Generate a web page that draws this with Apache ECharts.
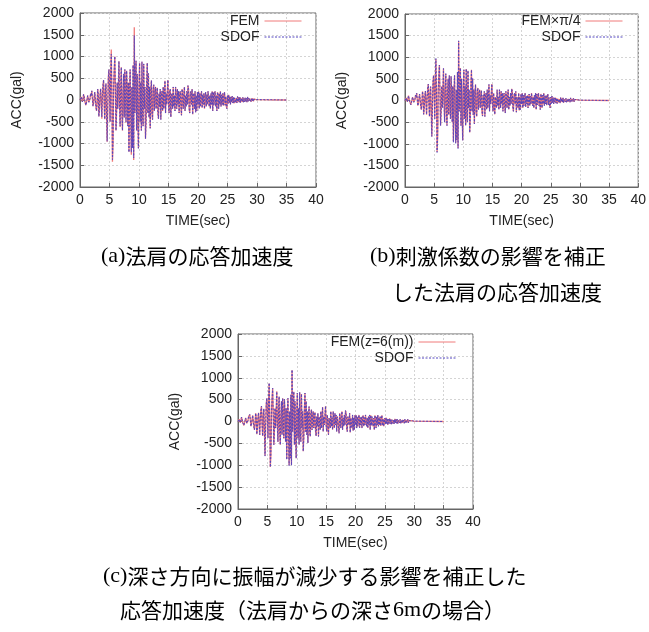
<!DOCTYPE html>
<html>
<head>
<meta charset="utf-8">
<script src="https://cdn.jsdelivr.net/npm/echarts@6/dist/echarts.min.js"></script>
<style>
html,body{margin:0;padding:0;background:#fff;}
#chart{width:649px;height:632px;}
</style>
</head>
<body>
<div id="chart"></div>
<script>
// sampling interval of the read-off time histories (sec) and end of record
const DT = 0.1;
const T_END = 35;
const xTicks = [0, 5, 10, 15, 20, 25, 30, 35, 40];
const yTicks = [-2000, -1500, -1000, -500, 0, 500, 1000, 1500, 2000];

// (a) 法肩の応答加速度
const aFEM = [
0,30,70,20,-40,10,130,80,-20,-60,
-120,-90,20,100,60,-50,-90,30,150,90,
210,40,-140,-80,60,180,20,-160,-250,-60,
250,130,-380,-200,120,260,-60,-430,100,350,
460,-100,-440,200,380,-300,-960,-200,520,700,
300,-500,600,1160,200,-1420,-1000,300,700,1000,
200,-700,-300,400,-200,300,890,-100,-620,300,
750,-300,-700,200,600,-400,700,100,-520,670,
300,-600,400,-1190,200,700,-400,-1260,300,-1100,
800,-1380,1670,-300,500,900,-700,600,-400,-1110,
300,850,-500,400,-700,880,-300,-600,830,-200,
300,-890,-500,400,850,-300,610,-400,300,-650,
200,450,-300,-450,250,350,-250,150,300,-200,
100,280,-300,-430,150,-150,250,-450,150,200,
-250,300,-200,100,440,-300,150,-100,200,460,
-100,-300,200,250,-390,100,150,-200,300,-150,
100,-250,300,50,-200,250,-100,200,-300,150,
200,-150,-350,250,100,-200,150,300,-250,100,
-150,200,-100,330,250,-200,-300,150,200,-100,
250,-330,100,150,-200,200,-280,100,-250,180,
-100,200,-200,150,-150,100,200,-180,120,-100,
150,-200,100,180,-150,120,-100,200,230,-150,
100,-200,150,-100,200,-250,180,-120,150,200,
-150,100,-250,180,120,-200,150,-100,200,-150,
120,-100,150,-130,100,180,-120,80,-150,-200,
100,-80,120,-60,80,-100,70,-50,90,-70,
60,-80,50,90,-60,40,-70,80,-40,60,
-50,70,-60,40,50,-40,60,-50,30,-40,
50,-30,40,-50,70,-30,40,-20,30,60,
-40,30,-20,40,-30,20,-20,15,-10,10,
0];
const aSDOF = [
0,30,70,20,-40,10,130,80,-20,-60,
-120,-90,20,100,60,-50,-90,30,150,90,
210,40,-140,-80,60,180,20,-160,-250,-60,
250,130,-380,-200,120,260,-60,-390,100,350,
460,-100,-440,200,380,-300,-950,-200,500,700,
300,-500,600,1050,200,-1370,-1000,300,700,1000,
200,-700,-300,400,-200,300,890,-100,-600,300,
750,-300,-700,200,600,-400,700,100,-500,670,
300,-600,400,-1200,200,700,-400,-1200,300,-1100,
800,-1330,1480,-300,500,900,-700,600,-400,-1110,
300,850,-500,400,-700,880,-300,-600,830,-200,
300,-890,-500,400,850,-300,610,-400,300,-650,
200,450,-300,-450,250,350,-250,150,300,-200,
100,280,-300,-430,150,-150,250,-450,150,200,
-250,300,-200,100,440,-300,150,-100,200,460,
-100,-300,200,250,-390,100,150,-200,300,-150,
100,-250,300,50,-200,250,-100,200,-300,150,
200,-150,-350,250,100,-200,150,300,-250,100,
-150,200,-100,330,250,-200,-300,150,200,-100,
250,-330,100,150,-200,200,-280,100,-250,180,
-100,200,-200,150,-150,100,200,-180,120,-100,
150,-200,100,180,-150,120,-100,200,230,-150,
100,-200,150,-100,200,-250,180,-120,150,200,
-150,100,-250,180,120,-200,150,-100,200,-150,
120,-100,150,-130,100,180,-120,80,-150,-200,
100,-80,120,-60,80,-100,70,-50,90,-70,
60,-80,50,90,-60,40,-70,80,-40,60,
-50,70,-60,40,50,-40,60,-50,30,-40,
50,-30,40,-50,70,-30,40,-20,30,60,
-40,30,-20,40,-30,20,-20,15,-10,10,
0];

// (b) 刺激係数の影響を補正した法肩の応答加速度
const bFEM = [
0,20,60,20,-30,10,110,70,-20,-50,
-100,-70,20,80,50,-40,-70,20,120,70,
170,30,-120,-70,50,150,20,-130,-210,-50,
210,110,-320,-170,100,220,-50,-330,80,290,
380,-80,-370,170,320,-250,-830,-170,420,580,
250,-420,500,960,170,-1190,-830,250,580,820,
170,-580,-250,330,-170,250,740,-80,-500,250,
620,-250,-580,170,500,-330,580,80,-430,560,
250,-500,330,-940,170,580,-330,-980,250,-910,
660,-1100,1370,-250,420,750,-580,500,-330,-920,
250,710,-420,330,-580,730,-250,-500,690,-170,
250,-740,-420,330,710,-250,510,-330,250,-540,
170,370,-250,-370,210,290,-210,120,250,-170,
80,230,-250,-360,120,-120,210,-370,120,170,
-210,250,-170,80,370,-250,120,-80,170,380,
-80,-250,170,210,-320,80,120,-170,250,-120,
80,-210,250,40,-170,210,-80,170,-250,120,
170,-120,-290,210,80,-170,120,250,-210,80,
-120,170,-80,270,210,-170,-250,120,170,-80,
210,-270,80,120,-170,170,-230,80,-210,150,
-80,170,-170,120,-120,80,170,-150,100,-80,
120,-170,80,150,-120,100,-80,170,190,-120,
80,-170,120,-80,170,-210,150,-100,120,170,
-120,80,-210,150,100,-170,120,-80,170,-120,
100,-80,120,-110,80,150,-100,70,-120,-170,
80,-70,100,-50,70,-80,60,-40,70,-60,
50,-70,40,70,-50,30,-60,70,-30,50,
-40,60,-50,30,40,-30,50,-40,20,-30,
40,-20,30,-40,60,-20,30,-20,20,50,
-30,20,-20,30,-20,20,-20,10,-10,10,
0];
const bSDOF = [
0,20,60,20,-30,10,110,70,-20,-50,
-100,-70,20,80,50,-40,-70,20,120,70,
170,30,-120,-70,50,150,20,-130,-210,-50,
210,110,-320,-170,100,220,-50,-320,80,290,
380,-80,-370,170,320,-250,-830,-170,420,580,
250,-420,500,970,170,-1200,-830,250,580,820,
170,-580,-250,330,-170,250,740,-80,-500,250,
620,-250,-580,170,500,-330,580,80,-420,560,
250,-500,330,-970,170,580,-330,-990,250,-910,
660,-1110,1380,-250,420,750,-580,500,-330,-920,
250,710,-420,330,-580,730,-250,-500,690,-170,
250,-740,-420,330,710,-250,510,-330,250,-540,
170,370,-250,-370,210,290,-210,120,250,-170,
80,230,-250,-360,120,-120,210,-370,120,170,
-210,250,-170,80,370,-250,120,-80,170,380,
-80,-250,170,210,-320,80,120,-170,250,-120,
80,-210,250,40,-170,210,-80,170,-250,120,
170,-120,-290,210,80,-170,120,250,-210,80,
-120,170,-80,270,210,-170,-250,120,170,-80,
210,-270,80,120,-170,170,-230,80,-210,150,
-80,170,-170,120,-120,80,170,-150,100,-80,
120,-170,80,150,-120,100,-80,170,190,-120,
80,-170,120,-80,170,-210,150,-100,120,170,
-120,80,-210,150,100,-170,120,-80,170,-120,
100,-80,120,-110,80,150,-100,70,-120,-170,
80,-70,100,-50,70,-80,60,-40,70,-60,
50,-70,40,70,-50,30,-60,70,-30,50,
-40,60,-50,30,40,-30,50,-40,20,-30,
40,-20,30,-40,60,-20,30,-20,20,50,
-30,20,-20,30,-20,20,-20,10,-10,10,
0];

// (c) 深さ方向に振幅が減少する影響を補正した応答加速度（深さ6m）
const cFEM = [
0,20,50,20,-30,10,100,60,-20,-50,
-90,-70,20,80,50,-40,-70,20,110,70,
160,30,-110,-60,50,140,20,-120,-190,-50,
190,100,-290,-150,90,200,-50,-310,80,270,
350,-80,-330,150,290,-230,-780,-150,390,530,
230,-380,460,870,150,-1040,-760,230,530,760,
150,-530,-230,300,-150,230,690,-80,-470,230,
570,-230,-530,150,460,-300,530,80,-390,510,
230,-460,300,-860,150,530,-300,-1000,230,-840,
610,-990,1170,-230,380,680,-530,460,-300,-840,
230,650,-380,300,-530,670,-230,-460,630,-150,
230,-680,-380,300,650,-230,460,-300,230,-490,
150,340,-230,-340,190,270,-190,110,230,-150,
80,210,-230,-330,110,-110,190,-340,110,150,
-190,230,-150,80,330,-230,110,-80,150,350,
-80,-230,150,190,-300,80,110,-150,230,-110,
80,-190,230,40,-150,190,-80,150,-230,110,
150,-110,-270,190,80,-150,110,230,-190,80,
-110,150,-80,250,190,-150,-230,110,150,-80,
190,-250,80,110,-150,150,-210,80,-190,140,
-80,150,-150,110,-110,80,150,-140,90,-80,
110,-150,80,140,-110,90,-80,150,170,-110,
80,-150,110,-80,150,-190,140,-90,110,150,
-110,80,-190,140,90,-150,110,-80,150,-110,
90,-80,110,-100,80,140,-90,60,-110,-150,
80,-60,90,-50,60,-80,50,-40,70,-50,
50,-60,40,70,-50,30,-50,60,-30,50,
-40,50,-50,30,40,-30,50,-40,20,-30,
40,-20,30,-40,50,-20,30,-20,20,50,
-30,20,-20,30,-20,20,-20,10,-10,10,
0];
const cSDOF = [
0,20,50,20,-30,10,100,60,-20,-50,
-90,-70,20,80,50,-40,-70,20,110,70,
160,30,-110,-60,50,140,20,-120,-190,-50,
190,100,-290,-150,90,200,-50,-300,80,270,
350,-80,-330,150,290,-230,-790,-150,380,530,
230,-380,460,880,150,-1040,-760,230,530,760,
150,-530,-230,300,-150,230,680,-80,-460,230,
570,-230,-530,150,460,-300,530,80,-380,510,
230,-460,300,-870,150,530,-300,-1010,230,-840,
610,-1000,1180,-230,380,680,-530,460,-300,-840,
230,650,-380,300,-530,670,-230,-460,630,-150,
230,-680,-380,300,650,-230,460,-300,230,-490,
150,340,-230,-340,190,270,-190,110,230,-150,
80,210,-230,-330,110,-110,190,-340,110,150,
-190,230,-150,80,330,-230,110,-80,150,350,
-80,-230,150,190,-300,80,110,-150,230,-110,
80,-190,230,40,-150,190,-80,150,-230,110,
150,-110,-270,190,80,-150,110,230,-190,80,
-110,150,-80,250,190,-150,-230,110,150,-80,
190,-250,80,110,-150,150,-210,80,-190,140,
-80,150,-150,110,-110,80,150,-140,90,-80,
110,-150,80,140,-110,90,-80,150,170,-110,
80,-150,110,-80,150,-190,140,-90,110,150,
-110,80,-190,140,90,-150,110,-80,150,-110,
90,-80,110,-100,80,140,-90,60,-110,-150,
80,-60,90,-50,60,-80,50,-40,70,-50,
50,-60,40,70,-50,30,-50,60,-30,50,
-40,50,-50,30,40,-30,50,-40,20,-30,
40,-20,30,-40,50,-20,30,-20,20,50,
-30,20,-20,30,-20,20,-20,10,-10,10,
0];

const legendNames = [['FEM', 'SDOF'], ['FEM\u00d7\u03c0/4', 'SDOF'], ['FEM(z=6(m))', 'SDOF']];

function toPairs(vals) {
  const out = vals.map((v, i) => [Math.round(i * DT * 10) / 10, v]);
  out.push([T_END, 0]);
  return out;
}

const FEM_COLOR = '#f07a7a';
const SDOF_COLOR = '#5244c0';
const TXT = '#222';
const FONT = '"Liberation Sans", Arial, sans-serif';

const grids = [
  {left: 80, top: 13, width: 236, height: 174},
  {left: 405, top: 14, width: 235, height: 173},
  {left: 238, top: 334, width: 235, height: 175}
];

const xAxes = grids.map((g, i) => ({
  gridIndex: i, type: 'value', min: 0, max: 40, interval: 5,
  name: 'TIME(sec)', nameLocation: 'middle', nameGap: 27,
  nameTextStyle: {color: TXT, fontSize: 14, fontFamily: FONT},
  axisLine: {onZero: false, lineStyle: {color: '#666'}},
  axisTick: {inside: true, length: 4, lineStyle: {color: '#666'}},
  axisLabel: {color: TXT, fontSize: 14, fontFamily: FONT, margin: 6, formatter: v => String(v)},
  splitLine: {show: true, lineStyle: {color: '#d4d4d4', type: [2, 2]}}
}));
const yAxes = grids.map((g, i) => ({
  gridIndex: i, type: 'value', min: -2000, max: 2000, interval: 500,
  name: 'ACC(gal)', nameLocation: 'middle', nameGap: 56, nameRotate: 90,
  nameTextStyle: {color: TXT, fontSize: 14, fontFamily: FONT},
  axisLine: {onZero: false, lineStyle: {color: '#666'}},
  axisTick: {inside: true, length: 4, lineStyle: {color: '#666'}},
  axisLabel: {color: TXT, fontSize: 14, fontFamily: FONT, margin: 6, formatter: v => String(v)},
  splitLine: {show: true, lineStyle: {color: '#d4d4d4', type: [2, 2]}}
}));

const femData = [aFEM, bFEM, cFEM];
const sdofData = [aSDOF, bSDOF, cSDOF];
const series = [];
for (let i = 0; i < 3; i++) {
  series.push({
    name: legendNames[i][0], type: 'line', xAxisIndex: i, yAxisIndex: i,
    data: toPairs(femData[i]), symbol: 'none', animation: false,
    lineStyle: {color: FEM_COLOR, width: 1.3}, itemStyle: {color: FEM_COLOR}
  });
  series.push({
    name: legendNames[i][1], type: 'line', xAxisIndex: i, yAxisIndex: i,
    data: toPairs(sdofData[i]), symbol: 'none', animation: false,
    lineStyle: {color: SDOF_COLOR, width: 1, type: [2, 1.5]}, itemStyle: {color: SDOF_COLOR}
  });
}

const legendPos = [{right: 347, top: 14}, {right: 26, top: 14}, {right: 193, top: 335}];
const legends = legendPos.map((p, i) => ({
  right: p.right, top: p.top, orient: 'vertical', align: 'right',
  itemWidth: 37, itemHeight: 8, itemGap: 2, padding: 0,
  data: legendNames[i], selectedMode: false,
  itemStyle: {opacity: 0},
  lineStyle: {width: 1},
  textStyle: {color: TXT, fontSize: 14, fontFamily: FONT, lineHeight: 12}
}));

const CJK = '"Noto Sans CJK JP", sans-serif';
const capRich = {
  s: {fontFamily: '"Liberation Serif", serif', fontSize: 22, color: '#111'},
  j: {fontFamily: CJK, fontSize: 21, color: '#111'}
};
function cap(x, y, parts) {
  return {
    type: 'text', left: x, top: y,
    style: {
      text: parts.map(p => '{' + p[0] + '|' + p[1] + '}').join(''),
      rich: capRich, verticalAlign: 'middle'
    }
  };
}

const chart = echarts.init(document.getElementById('chart'), null, {renderer: 'canvas'});
chart.setOption({
  backgroundColor: '#fff',
  animation: false,
  grid: grids.map(g => Object.assign({show: true, borderColor: '#666', borderWidth: 1, containLabel: false}, g)),
  xAxis: xAxes,
  yAxis: yAxes,
  legend: legends,
  series: series,
  graphic: [
    cap(101, 245, [['s', '(a)'], ['j', '法肩の応答加速度']]),
    cap(370, 245, [['s', '(b)'], ['j', '刺激係数の影響を補正']]),
    cap(392, 282, [['j', 'した法肩の応答加速度']]),
    cap(103, 565, [['s', '(c)'], ['j', '深さ方向に振幅が減少する影響を補正した']]),
    cap(120, 599, [['j', '応答加速度（法肩からの深さ'], ['s', '6m'], ['j', 'の場合）']])
  ]
});
</script>
</body>
</html>
